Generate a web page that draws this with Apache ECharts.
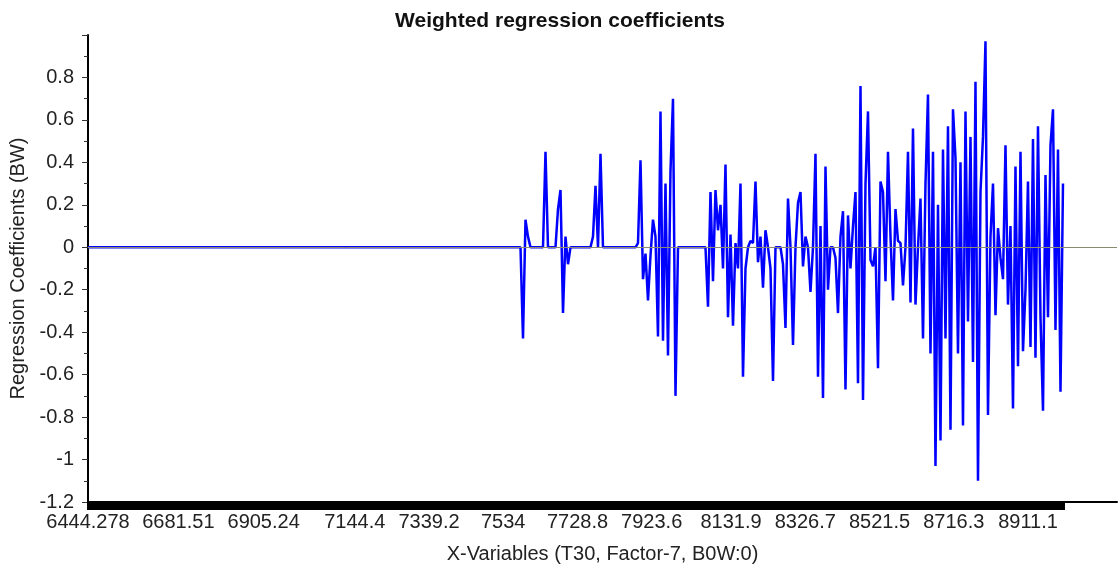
<!DOCTYPE html>
<html><head><meta charset="utf-8">
<script src="https://cdn.jsdelivr.net/npm/echarts@6/dist/echarts.min.js"></script>
<style>html,body{margin:0;padding:0;background:#fff}#c{width:1120px;height:569px}</style>
</head><body><div id="c"></div>
<script>
const chartTitle = 'Weighted regression coefficients';
const xAxisName = 'X-Variables (T30, Factor-7, B0W:0)';
const yAxisName = 'Regression Coefficients (BW)';
const xTickLabels = ['6444.278','6681.51','6905.24','7144.4','7339.2','7534','7728.8','7923.6','8131.9','8326.7','8521.5','8716.3','8911.1'];
const xStart = 6444.278;   // first variable (wavenumber)
const xStep = 6.5607;      // spacing between variables
const xAxisMax = 9144.7;
const yMin = -1.2, yMax = 1.0, yStep = 0.2;

// regression coefficients, one per variable
const coef = [
  0,0,0,0,0,0,0,0,0,0,0,0,0,0,0,0,0,0,0,0,
  0,0,0,0,0,0,0,0,0,0,0,0,0,0,0,0,0,0,0,0,
  0,0,0,0,0,0,0,0,0,0,0,0,0,0,0,0,0,0,0,0,
  0,0,0,0,0,0,0,0,0,0,0,0,0,0,0,0,0,0,0,0,
  0,0,0,0,0,0,0,0,0,0,0,0,0,0,0,0,0,0,0,0,
  0,0,0,0,0,0,0,0,0,0,0,0,0,0,0,0,0,0,0,0,
  0,0,0,0,0,0,0,0,0,0,0,0,0,0,0,0,0,0,0,0,
  0,0,0,0,0,0,0,0,0,0,0,0,0,0,0,0,0,0,0,0,
  0,0,0,0,0,0,0,0,0,0,0,0,0,
  0,-0.43,0.13,0.05,0,0,0,0,0,0,
  0.45,0,0,0,0,0.18,0.27,-0.31,0.05,-0.08,
  0,0,0,0,0,0,0,0,0,0.05,
  0.29,0,0.44,0,0,0,0,0,0,0,
  0,0,0,0,0,0,0,0.02,0.41,-0.15,
  -0.03,-0.25,-0.04,0.13,0.05,-0.42,0.64,-0.44,0.30,-0.51,
  0.36,0.70,-0.70,0,0,0,0,0,0,0,
  0,0,0,0,0,-0.28,0.26,-0.16,0.27,0.08,
  0.20,-0.10,0.39,-0.33,0.06,-0.37,0.02,-0.10,0.30,-0.61,
  -0.10,0,0.03,0.02,0.31,-0.07,0.05,-0.19,0.08,0,
  -0.10,-0.63,0,0,0,-0.08,-0.38,0.23,0,-0.46,
  0,0.21,0.26,-0.09,0.05,0,-0.21,0,0.44,-0.61,
  0.10,-0.71,0.38,-0.20,0,0,-0.05,-0.31,0.05,0.17,
  -0.67,0.15,-0.10,0.10,0.26,-0.64,0.76,-0.72,0.30,0.64,
  -0.06,-0.09,0,-0.57,0.31,0.26,-0.16,0.45,0.05,-0.25,
  0.18,0.03,0.02,-0.18,0,0.45,-0.26,0.56,-0.27,0,
  0.23,-0.43,0.30,0.72,-0.50,0.45,-1.03,0.20,-0.91,0.46,
  -0.43,0.57,-0.86,0.65,0.42,-0.50,0.40,-0.84,0.64,-0.35,
  0.52,-0.54,0.78,-1.10,0.26,0.52,0.97,-0.79,0.05,0.30,
  -0.32,0.09,-0.05,-0.15,0.48,-0.27,0.10,-0.76,0.38,-0.56,
  0.45,-0.49,-0.20,0.31,-0.47,0.51,-0.52,0.57,-0.33,-0.77,
  0.34,-0.33,0.48,0.65,-0.39,0.46,-0.68,0.30
];

const xVars = coef.map((_, i) => +(xStart + i * xStep).toFixed(4));
const xTickValues = xTickLabels.map(Number);
const seriesData = coef.map((v, i) => [xVars[i], v]);

const FONT = "'Liberation Sans', Arial, sans-serif";
const chart = echarts.init(document.getElementById('c'), null, {renderer: 'canvas'});
chart.setOption({
  animation: false,
  backgroundColor: '#ffffff',
  title: {
    text: chartTitle, left: 'center', top: 6,
    textStyle: {fontFamily: FONT, fontSize: 21, fontWeight: 'bold', color: '#111'}
  },
  grid: {left: 88, right: 3, top: 35, bottom: 66, containLabel: false},
  xAxis: {
    type: 'value', min: xStart, max: xAxisMax,
    name: xAxisName, nameLocation: 'middle', nameGap: 42,
    nameTextStyle: {fontFamily: FONT, fontSize: 20, color: '#222'},
    axisLine: {show: true, onZero: false, lineStyle: {color: '#000', width: 2}},
    axisTick: {show: true, customValues: xVars, length: 8, lineStyle: {color: '#000', width: 3}},
    axisLabel: {
      customValues: xTickValues, margin: 10,
      fontFamily: FONT, fontSize: 20, color: '#222',
      formatter: v => { const k = xTickValues.findIndex(t => Math.abs(t - v) < 1e-6); return k >= 0 ? xTickLabels[k] : ''; }
    },
    splitLine: {show: false}
  },
  yAxis: {
    type: 'value', min: yMin, max: yMax, interval: yStep,
    name: yAxisName, nameLocation: 'middle', nameGap: 54, nameRotate: 90,
    nameTextStyle: {fontFamily: FONT, fontSize: 20, color: '#222'},
    axisLine: {show: true, onZero: false, lineStyle: {color: '#000', width: 2}},
    axisTick: {show: true, length: 6, lineStyle: {color: '#333', width: 1}},
    minorTick: {show: true, splitNumber: 2, length: 4, lineStyle: {color: '#333', width: 1}},
    axisLabel: {
      showMaxLabel: false, margin: 14,
      fontFamily: FONT, fontSize: 20, color: '#222',
      formatter: v => String(Math.round(v * 10) / 10)
    },
    splitLine: {show: false}
  },
  series: [{
    type: 'line', data: seriesData, showSymbol: false, symbol: 'none',
    lineStyle: {color: '#0000ff', width: 2.5},
    markLine: {
      silent: true, symbol: 'none', label: {show: false},
      lineStyle: {color: '#8a8a70', width: 1, type: 'solid'},
      data: [{yAxis: 0}]
    }
  }]
});
</script>
</body></html>
